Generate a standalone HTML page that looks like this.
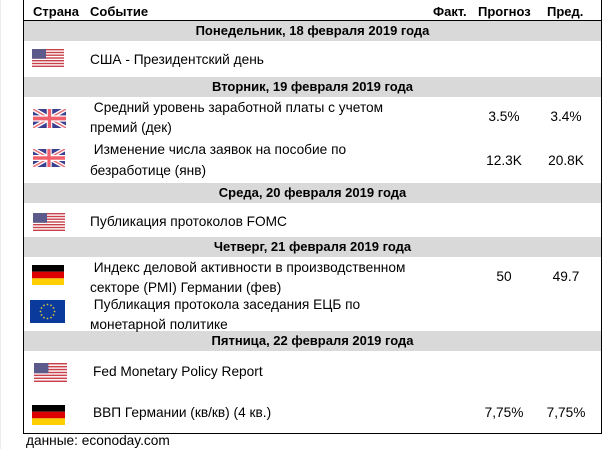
<!DOCTYPE html>
<html><head><meta charset="utf-8">
<style>
html,body{margin:0;padding:0;background:#fff;}
body{width:616px;height:449px;position:relative;overflow:hidden;font-family:"Liberation Sans","DejaVu Sans",sans-serif;color:#000;}
.a{position:absolute;white-space:nowrap;line-height:16px;height:16px;font-size:13.7px;}
.b{font-weight:bold;font-size:13px;}
.band{position:absolute;left:24px;width:577px;height:20px;background:#d9d9d9;}
.bt{position:absolute;left:24px;width:577px;text-align:center;font-weight:bold;font-size:13px;line-height:20px;height:20px;}
.r{text-align:center;width:50px;}
svg{position:absolute;display:block;}
</style></head><body>
<div style="position:absolute;left:0;top:0;width:1px;height:449px;background:#ececec"></div>
<!-- frame -->
<div style="position:absolute;left:23px;top:0;width:1px;height:434px;background:#000"></div>
<div style="position:absolute;left:601px;top:0;width:1px;height:434px;background:#000"></div>
<div style="position:absolute;left:23px;top:433px;width:579px;height:1px;background:#000"></div>
<div style="position:absolute;left:23px;top:20px;width:579px;height:1px;background:#000"></div>

<!-- header -->
<div class="a b" style="left:33px;top:4px">Страна</div>
<div class="a b" style="left:90px;top:4px">Событие</div>
<div class="a b" style="left:433px;top:4px">Факт.</div>
<div class="a b" style="left:478px;top:4px">Прогноз</div>
<div class="a b" style="left:547px;top:4px">Пред.</div>

<!-- bands -->
<div class="band" style="top:21px"></div><div class="bt" style="top:21px">Понедельник, 18 февраля 2019 года</div>
<div class="band" style="top:77px"></div><div class="bt" style="top:77px">Вторник, 19 февраля 2019 года</div>
<div class="band" style="top:183px"></div><div class="bt" style="top:183px">Среда, 20 февраля 2019 года</div>
<div class="band" style="top:237px"></div><div class="bt" style="top:237px">Четверг, 21 февраля 2019 года</div>
<div class="band" style="top:331px"></div><div class="bt" style="top:331px">Пятница, 22 февраля 2019 года</div>

<!-- rows text -->
<div class="a" style="left:90px;top:52px">США - Президентский день</div>

<div class="a" style="left:90px;top:100px">&nbsp;Средний уровень заработной платы с учетом</div>
<div class="a" style="left:90px;top:120px">премий (дек)</div>
<div class="a r" style="left:479px;top:109px">3.5%</div>
<div class="a r" style="left:541px;top:109px">3.4%</div>

<div class="a" style="left:90px;top:142px">&nbsp;Изменение числа заявок на пособие по</div>
<div class="a" style="left:90px;top:163px">безработице (янв)</div>
<div class="a r" style="left:479px;top:153px">12.3K</div>
<div class="a r" style="left:541px;top:153px">20.8K</div>

<div class="a" style="left:90px;top:214px">Публикация протоколов FOMC</div>

<div class="a" style="left:90px;top:260px">&nbsp;Индекс деловой активности в производственном</div>
<div class="a" style="left:90px;top:280px">секторе (PMI) Германии (фев)</div>
<div class="a r" style="left:479px;top:269px">50</div>
<div class="a r" style="left:541px;top:269px">49.7</div>
<div class="a" style="left:90px;top:297px">&nbsp;Публикация протокола заседания ЕЦБ по</div>
<div class="a" style="left:90px;top:317px">монетарной политике</div>

<div class="a" style="left:93px;top:364px">Fed Monetary Policy Report</div>
<div class="a" style="left:93px;top:405px">ВВП Германии (кв/кв) (4 кв.)</div>
<div class="a r" style="left:479px;top:405px">7,75%</div>
<div class="a r" style="left:541px;top:405px">7,75%</div>

<div class="a" style="left:26px;top:433px">данные: econoday.com</div>

<!-- US flags -->
<svg style="left:32px;top:49px" width="32" height="18" viewBox="0 0 32 18">
<rect width="32" height="18" fill="#fff"/>
<g fill="#c8414b"><rect y="0" width="32" height="1.4"/><rect y="2.8" width="32" height="1.4"/><rect y="5.5" width="32" height="1.4"/><rect y="8.3" width="32" height="1.4"/><rect y="11" width="32" height="1.4"/><rect y="13.8" width="32" height="1.4"/><rect y="16.6" width="32" height="1.4"/></g>
<rect width="14" height="9.7" fill="#5b5a8a"/></svg>
<svg style="left:33px;top:213px" width="32" height="18" viewBox="0 0 32 18">
<rect width="32" height="18" fill="#fff"/>
<g fill="#c8414b"><rect y="0" width="32" height="1.4"/><rect y="2.8" width="32" height="1.4"/><rect y="5.5" width="32" height="1.4"/><rect y="8.3" width="32" height="1.4"/><rect y="11" width="32" height="1.4"/><rect y="13.8" width="32" height="1.4"/><rect y="16.6" width="32" height="1.4"/></g>
<rect width="14" height="9.7" fill="#5b5a8a"/></svg>
<svg style="left:34px;top:363px" width="33" height="19" viewBox="0 0 32 18" preserveAspectRatio="none">
<rect width="32" height="18" fill="#fff"/>
<g fill="#c8414b"><rect y="0" width="32" height="1.4"/><rect y="2.8" width="32" height="1.4"/><rect y="5.5" width="32" height="1.4"/><rect y="8.3" width="32" height="1.4"/><rect y="11" width="32" height="1.4"/><rect y="13.8" width="32" height="1.4"/><rect y="16.6" width="32" height="1.4"/></g>
<rect width="14" height="9.7" fill="#5b5a8a"/></svg>

<!-- UK flags -->
<svg style="left:33px;top:109px" width="33" height="19" viewBox="0 0 60 30" preserveAspectRatio="none">
<rect width="60" height="30" fill="#3a3f8f"/>
<path d="M0,0 L60,30 M60,0 L0,30" stroke="#fff" stroke-width="7"/>
<path d="M0,0 L60,30 M60,0 L0,30" stroke="#e8707a" stroke-width="2.5"/>
<path d="M30,0 V30 M0,15 H60" stroke="#fff" stroke-width="10"/>
<path d="M30,0 V30 M0,15 H60" stroke="#f0606c" stroke-width="6"/></svg>
<svg style="left:33px;top:149px" width="32" height="18" viewBox="0 0 60 30" preserveAspectRatio="none">
<rect width="60" height="30" fill="#3a3f8f"/>
<path d="M0,0 L60,30 M60,0 L0,30" stroke="#fff" stroke-width="7"/>
<path d="M0,0 L60,30 M60,0 L0,30" stroke="#e8707a" stroke-width="2.5"/>
<path d="M30,0 V30 M0,15 H60" stroke="#fff" stroke-width="10"/>
<path d="M30,0 V30 M0,15 H60" stroke="#f0606c" stroke-width="6"/></svg>

<!-- German flags -->
<svg style="left:32px;top:265px" width="32" height="20" viewBox="0 0 3 3" preserveAspectRatio="none">
<rect width="3" height="1" fill="#000"/><rect y="1" width="3" height="1" fill="#dd0000"/><rect y="2" width="3" height="1" fill="#ffce00"/></svg>
<svg style="left:32px;top:405px" width="33" height="20" viewBox="0 0 3 3" preserveAspectRatio="none">
<rect width="3" height="1" fill="#000"/><rect y="1" width="3" height="1" fill="#dd0000"/><rect y="2" width="3" height="1" fill="#ffce00"/></svg>

<!-- EU flag -->
<svg style="left:30px;top:300px" width="35" height="23" viewBox="0 0 35 23">
<rect width="35" height="23" fill="#0a3a9c"/>
<g fill="#d9c040">
<circle cx="17.5" cy="4.5" r="0.9"/><circle cx="21" cy="5.4" r="0.9"/><circle cx="23.5" cy="8" r="0.9"/><circle cx="24.5" cy="11.5" r="0.9"/><circle cx="23.5" cy="15" r="0.9"/><circle cx="21" cy="17.6" r="0.9"/><circle cx="17.5" cy="18.5" r="0.9"/><circle cx="14" cy="17.6" r="0.9"/><circle cx="11.5" cy="15" r="0.9"/><circle cx="10.5" cy="11.5" r="0.9"/><circle cx="11.5" cy="8" r="0.9"/><circle cx="14" cy="5.4" r="0.9"/>
</g></svg>
</body></html>
